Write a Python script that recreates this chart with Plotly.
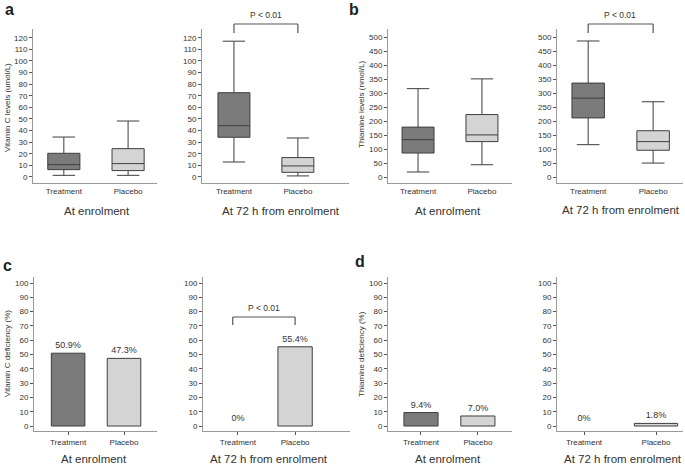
import plotly.graph_objects as go

W, H = 685, 471
FONT = "Liberation Sans, Arial, sans-serif"

groups = ["Treatment", "Placebo"]

# Box statistics: [Treatment, Placebo]
vitc_enrol_low = [1.4, 1.4]
vitc_enrol_q1 = [6.3, 5.5]
vitc_enrol_med = [10.6, 11.5]
vitc_enrol_q3 = [20.4, 24.4]
vitc_enrol_high = [34.4, 48.2]

vitc_72h_low = [12.9, 0.9]
vitc_72h_q1 = [34.2, 4.0]
vitc_72h_med = [44.2, 9.5]
vitc_72h_q3 = [72.6, 16.7]
vitc_72h_high = [117.0, 33.6]

thia_enrol_low = [18, 44]
thia_enrol_q1 = [86, 127]
thia_enrol_med = [134, 151]
thia_enrol_q3 = [179, 224]
thia_enrol_high = [317, 352]

thia_72h_low = [116, 50]
thia_72h_q1 = [212, 96]
thia_72h_med = [283, 127]
thia_72h_q3 = [337, 166]
thia_72h_high = [488, 270]

# Deficiency percentages
vitc_def_enrol = [50.9, 47.3]
vitc_def_72h = [0, 55.4]
thia_def_enrol = [9.4, 7.0]
thia_def_72h = [0, 1.8]

fills = ["#7b7b7b", "#d4d4d4"]
LINE = "#3e3e3e"
AXC = "#9a9a9a"


def px_x(p):
    return p / W


def px_y(p):
    return 1 - p / H


fig = go.Figure()

# panel geometry (pixels): x0, x1, y_top, y_bottom, xrange, yrange, dtick
panels = [
    (33, 157, 29, 183, [-0.48, 1.45], [-5.2, 127.5], 10, "box"),
    (202, 349, 29, 183, [-0.5, 1.8], [-5.2, 127.5], 10, "box"),
    (388, 512, 29, 183, [-0.47, 1.47], [-21.5, 531], 50, "box"),
    (557, 683, 29, 183, [-0.48, 1.46], [-21.5, 531], 50, "box"),
    (34, 157, 277, 431, [-0.61, 1.59], [-3.5, 104.2], 10, "bar"),
    (203, 350, 277, 431, [-0.61, 1.96], [-3.5, 104.2], 10, "bar"),
    (388, 512, 277, 431, [-0.58, 1.6], [-3.5, 104.2], 10, "bar"),
    (557, 683, 277, 431, [-0.375, 1.375], [-3.5, 104.2], 10, "bar"),
]

box_data = [
    (vitc_enrol_low, vitc_enrol_q1, vitc_enrol_med, vitc_enrol_q3, vitc_enrol_high),
    (vitc_72h_low, vitc_72h_q1, vitc_72h_med, vitc_72h_q3, vitc_72h_high),
    (thia_enrol_low, thia_enrol_q1, thia_enrol_med, thia_enrol_q3, thia_enrol_high),
    (thia_72h_low, thia_72h_q1, thia_72h_med, thia_72h_q3, thia_72h_high),
]
bar_data = [vitc_def_enrol, vitc_def_72h, thia_def_enrol, thia_def_72h]

layout = dict(
    width=W, height=H, margin=dict(l=0, r=0, t=0, b=0),
    paper_bgcolor="white", plot_bgcolor="white", showlegend=False,
    font=dict(family=FONT, color="#333"),
    boxmode="overlay",
)

for i, (x0, x1, yt, yb, xr, yr, dt, kind) in enumerate(panels):
    n = i + 1
    sx = "" if n == 1 else str(n)
    xa, ya = "x" + sx, "y" + sx
    layout["xaxis" + sx] = dict(
        domain=[px_x(x0), px_x(x1)], anchor=ya, type="category",
        categoryorder="array", categoryarray=groups, range=xr,
        showline=True, linecolor=AXC, linewidth=1, showgrid=False, zeroline=False,
        ticks="outside" if kind == "bar" else "", ticklen=3, tickcolor="#555",
        tickfont=dict(size=8, color="#333", family=FONT), fixedrange=True,
    )
    layout["yaxis" + sx] = dict(
        domain=[px_y(yb), px_y(yt)], anchor=xa, range=yr,
        tickmode="linear", tick0=0, dtick=dt,
        showline=True, linecolor=AXC, linewidth=1, showgrid=False, zeroline=False,
        ticks="outside", ticklen=3, tickcolor="#555",
        tickfont=dict(size=8, color="#333", family=FONT), fixedrange=True,
    )
    if kind == "box":
        low, q1, med, q3, high = box_data[i]
        for g in range(2):
            fig.add_trace(go.Box(
                x=[groups[g]], q1=[q1[g]], median=[med[g]], q3=[q3[g]],
                lowerfence=[low[g]], upperfence=[high[g]],
                fillcolor=fills[g], line=dict(color=LINE, width=1),
                width=0.5, whiskerwidth=0.7, boxpoints=False,
                xaxis=xa, yaxis=ya, hoverinfo="skip",
            ))
    else:
        vals = bar_data[i - 4]
        fig.add_trace(go.Bar(
            x=groups, y=vals, width=0.6,
            marker=dict(color=fills, line=dict(color=LINE, width=[0 if v == 0 else 1 for v in vals])),
            text=[f"{v:g}%" if v == 0 else f"{v:.1f}%" for v in vals],
            textposition="outside", constraintext="none", cliponaxis=False,
            textfont=dict(size=9, color="#333", family=FONT),
            xaxis=xa, yaxis=ya, hoverinfo="skip",
        ))

annotations = []


def txt(x, y, s, size, bold=False, angle=0):
    annotations.append(dict(
        x=px_x(x), y=px_y(y), xref="paper", yref="paper", text=f"<b>{s}</b>" if bold else s,
        showarrow=False, textangle=angle, xanchor="center", yanchor="middle",
        font=dict(size=size, color="#222" if bold else "#333", family=FONT),
    ))


# Group titles
txt(97, 211, "At enrolment", 11.5)
txt(281, 211, "At 72 h from enrolment", 11.5)
txt(448, 211, "At enrolment", 11.5)
txt(621, 210, "At 72 h from enrolment", 11.5)
txt(94, 459, "At enrolment", 11.5)
txt(269, 459, "At 72 h from enrolment", 11.5)
txt(448, 459, "At enrolment", 11.5)
txt(623, 459, "At 72 h from enrolment", 11.5)

# Panel letters
txt(9, 10, "a", 16, bold=True)
txt(354, 10, "b", 16, bold=True)
txt(8, 265, "c", 16, bold=True)
txt(360, 261, "d", 16, bold=True)

# Y titles
txt(8, 108, "Vitamin C levels (umol/L)", 8, angle=-90)
txt(362, 105, "Thiamine levels (nmol/L)", 8, angle=-90)
txt(7, 354, "Vitamin C deficiency (%)", 8, angle=-90)
txt(361, 354, "Thiamine deficiency (%)", 8, angle=-90)

# P values
txt(266, 15, "P &lt; 0.01", 8.5)
txt(620, 15, "P &lt; 0.01", 8.5)
txt(264, 308, "P &lt; 0.01", 8.5)

shapes = []
BR = "#555"


def bracket_paper(xref, xa, xb, ytop, ybot):
    for (xx0, yy0, xx1, yy1) in [(xa, ytop, xb, ytop), (xa, ytop, xa, ybot), (xb, ytop, xb, ybot)]:
        shapes.append(dict(type="line", xref=xref, yref="paper", x0=xx0, x1=xx1,
                           y0=px_y(yy0), y1=px_y(yy1), line=dict(color=BR, width=1.2)))


bracket_paper("x2", 0, 1, 24, 33)
bracket_paper("x4", 0, 1, 24, 33)
bracket_paper("x6", -0.09, 1, 317, 325)

layout["annotations"] = annotations
layout["shapes"] = shapes
fig.update_layout(**layout)

fig.write_html(
    "out.html",
    config={"displayModeBar": False},
    post_script="document.body.style.margin='0';document.body.style.padding='0';document.body.style.overflow='hidden';",
)
